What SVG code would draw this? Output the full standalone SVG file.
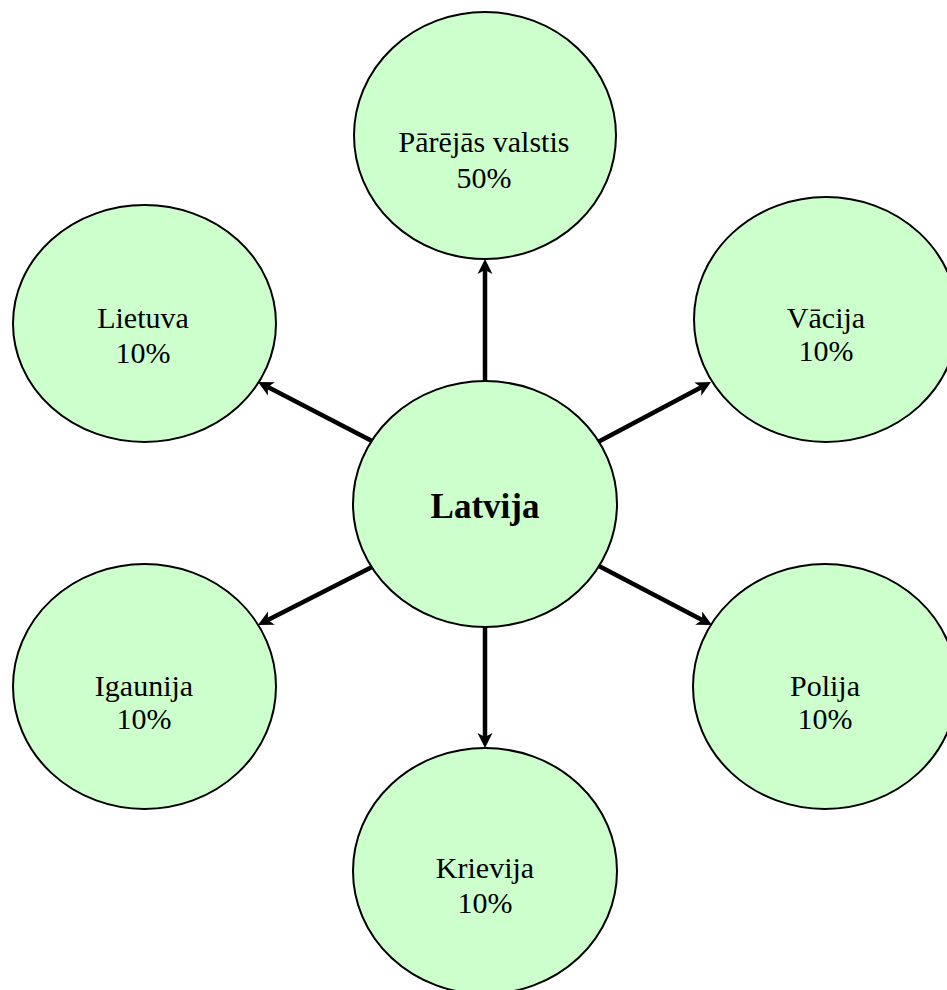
<svg xmlns="http://www.w3.org/2000/svg" width="947" height="990" viewBox="0 0 947 990">
<style>
.node ellipse{fill:#CCFFCC;stroke:#000;stroke-width:2}
.node text{font-family:"Liberation Serif","Times New Roman",serif;font-size:30px;fill:#000;text-anchor:middle}
.node text.main{font-size:35px;font-weight:bold}
.conn line{stroke:#000;stroke-width:4.5;marker-end:url(#ah)}
</style>
<defs>
<marker id="ah" markerUnits="userSpaceOnUse" markerWidth="20" markerHeight="20" viewBox="0 -10 20 20" refX="4" refY="0" orient="auto">
<path d="M15,0 L0,-7.5 L4,0 L0,7.5 Z" fill="#000"/>
</marker>
</defs>
<rect width="947" height="990" fill="#fff"/>
<g id="connectors" class="conn">
<line x1="485" y1="382" x2="485" y2="270"/>
<line x1="372" y1="441" x2="267.8" y2="387.1"/>
<line x1="598" y1="442" x2="701.3" y2="387.2"/>
<line x1="372" y1="567" x2="267.8" y2="620"/>
<line x1="597" y1="565" x2="702.2" y2="619.9"/>
<line x1="485" y1="627" x2="485" y2="737"/>
</g>
<g id="node-parejas" class="node">
<ellipse cx="485" cy="135.5" rx="131" ry="123.5"/>
<text x="484" y="152">Pārējās valstis</text>
<text x="484" y="188">50%</text>
</g>
<g id="node-lietuva" class="node">
<ellipse cx="144.5" cy="323.5" rx="131.5" ry="118.5"/>
<text x="143" y="328">Lietuva</text>
<text x="143" y="363">10%</text>
</g>
<g id="node-vacija" class="node">
<ellipse cx="826" cy="319.5" rx="132" ry="122.5"/>
<text x="826" y="328">Vācija</text>
<text x="826" y="361">10%</text>
</g>
<g id="node-latvija" class="node">
<ellipse cx="485" cy="504" rx="132" ry="123"/>
<text class="main" x="485" y="518">Latvija</text>
</g>
<g id="node-igaunija" class="node">
<ellipse cx="144.5" cy="686.5" rx="131.5" ry="122.5"/>
<text x="144" y="696">Igaunija</text>
<text x="144" y="729">10%</text>
</g>
<g id="node-polija" class="node">
<ellipse cx="825" cy="686.5" rx="132" ry="122.5"/>
<text x="825" y="696">Polija</text>
<text x="825" y="729">10%</text>
</g>
<g id="node-krievija" class="node">
<ellipse cx="485" cy="871" rx="132" ry="123"/>
<text x="485" y="878">Krievija</text>
<text x="485" y="913">10%</text>
</g>
</svg>
